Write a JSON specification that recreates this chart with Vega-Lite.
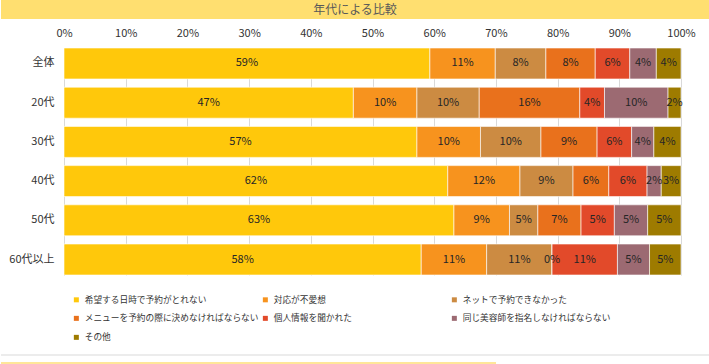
{
  "$schema": "https://vega.github.io/schema/vega-lite/v6.json",
  "padding": 0,
  "background": "white",
  "spacing": 8,
  "config": {"font": "Noto Sans CJK JP", "view": {"stroke": null}},
  "vconcat": [
    {
      "width": 617,
      "height": 19,
      "data": {"values": [{"t": "年代による比較"}]},
      "layer": [
        {
          "mark": {"type": "rect", "color": "#FFDF70", "clip": false},
          "encoding": {
            "x": {"datum": -0.1021, "type": "quantitative", "scale": {"domain": [0, 1], "nice": false}, "axis": null},
            "x2": {"datum": 1.0454}
          }
        },
        {
          "mark": {"type": "text", "fontSize": 12, "color": "#595959"},
          "encoding": {
            "x": {"datum": 0.4717, "type": "quantitative"},
            "text": {"field": "t"}
          }
        }
      ]
    },
    {
      "width": 617,
      "height": 227,
      "data": {"values": [
        {"age": "全体", "i": 1, "cat": "希望する日時で予約がとれない", "v": 0.593},
        {"age": "全体", "i": 2, "cat": "対応が不愛想", "v": 0.106},
        {"age": "全体", "i": 3, "cat": "ネットで予約できなかった", "v": 0.082},
        {"age": "全体", "i": 4, "cat": "メニューを予約の際に決めなければならない", "v": 0.080},
        {"age": "全体", "i": 5, "cat": "個人情報を聞かれた", "v": 0.056},
        {"age": "全体", "i": 6, "cat": "同じ美容師を指名しなければならない", "v": 0.043},
        {"age": "全体", "i": 7, "cat": "その他", "v": 0.040},
        {"age": "20代", "i": 1, "cat": "希望する日時で予約がとれない", "v": 0.469},
        {"age": "20代", "i": 2, "cat": "対応が不愛想", "v": 0.103},
        {"age": "20代", "i": 3, "cat": "ネットで予約できなかった", "v": 0.101},
        {"age": "20代", "i": 4, "cat": "メニューを予約の際に決めなければならない", "v": 0.163},
        {"age": "20代", "i": 5, "cat": "個人情報を聞かれた", "v": 0.040},
        {"age": "20代", "i": 6, "cat": "同じ美容師を指名しなければならない", "v": 0.103},
        {"age": "20代", "i": 7, "cat": "その他", "v": 0.021},
        {"age": "30代", "i": 1, "cat": "希望する日時で予約がとれない", "v": 0.572},
        {"age": "30代", "i": 2, "cat": "対応が不愛想", "v": 0.103},
        {"age": "30代", "i": 3, "cat": "ネットで予約できなかった", "v": 0.098},
        {"age": "30代", "i": 4, "cat": "メニューを予約の際に決めなければならない", "v": 0.091},
        {"age": "30代", "i": 5, "cat": "個人情報を聞かれた", "v": 0.056},
        {"age": "30代", "i": 6, "cat": "同じ美容師を指名しなければならない", "v": 0.036},
        {"age": "30代", "i": 7, "cat": "その他", "v": 0.044},
        {"age": "40代", "i": 1, "cat": "希望する日時で予約がとれない", "v": 0.622},
        {"age": "40代", "i": 2, "cat": "対応が不愛想", "v": 0.117},
        {"age": "40代", "i": 3, "cat": "ネットで予約できなかった", "v": 0.086},
        {"age": "40代", "i": 4, "cat": "メニューを予約の際に決めなければならない", "v": 0.058},
        {"age": "40代", "i": 5, "cat": "個人情報を聞かれた", "v": 0.062},
        {"age": "40代", "i": 6, "cat": "同じ美容師を指名しなければならない", "v": 0.023},
        {"age": "40代", "i": 7, "cat": "その他", "v": 0.032},
        {"age": "50代", "i": 1, "cat": "希望する日時で予約がとれない", "v": 0.632},
        {"age": "50代", "i": 2, "cat": "対応が不愛想", "v": 0.090},
        {"age": "50代", "i": 3, "cat": "ネットで予約できなかった", "v": 0.046},
        {"age": "50代", "i": 4, "cat": "メニューを予約の際に決めなければならない", "v": 0.070},
        {"age": "50代", "i": 5, "cat": "個人情報を聞かれた", "v": 0.054},
        {"age": "50代", "i": 6, "cat": "同じ美容師を指名しなければならない", "v": 0.054},
        {"age": "50代", "i": 7, "cat": "その他", "v": 0.054},
        {"age": "60代以上", "i": 1, "cat": "希望する日時で予約がとれない", "v": 0.579},
        {"age": "60代以上", "i": 2, "cat": "対応が不愛想", "v": 0.106},
        {"age": "60代以上", "i": 3, "cat": "ネットで予約できなかった", "v": 0.106},
        {"age": "60代以上", "i": 4, "cat": "メニューを予約の際に決めなければならない", "v": 0.0},
        {"age": "60代以上", "i": 5, "cat": "個人情報を聞かれた", "v": 0.106},
        {"age": "60代以上", "i": 6, "cat": "同じ美容師を指名しなければならない", "v": 0.052},
        {"age": "60代以上", "i": 7, "cat": "その他", "v": 0.051}
      ]},
      "transform": [
        {"stack": "v", "groupby": ["age"], "sort": [{"field": "i", "order": "ascending"}], "as": ["v0", "v1"]},
        {"calculate": "(datum.v0 + datum.v1) / 2", "as": "mid"}
      ],
      "encoding": {
        "y": {
          "field": "age",
          "type": "nominal",
          "sort": ["全体", "20代", "30代", "40代", "50代", "60代以上"],
          "scale": {"paddingInner": 0.21, "paddingOuter": 0},
          "axis": {
            "title": null,
            "labelPadding": 10,
            "ticks": false,
            "domainColor": "#D9D9D9",
            "labelFontSize": 11,
            "labelColor": "#333333"
          }
        }
      },
      "layer": [
        {
          "mark": {"type": "bar", "stroke": "white", "strokeWidth": 0.6},
          "encoding": {
            "x": {
              "field": "v0",
              "type": "quantitative",
              "scale": {"domain": [0, 1], "nice": false},
              "axis": {
                "orient": "top",
                "format": ".0%",
                "values": [0, 0.1, 0.2, 0.3, 0.4, 0.5, 0.6, 0.7, 0.8, 0.9, 1],
                "title": null,
                "ticks": false,
                "domain": false,
                "labelPadding": 10,
                "labelFlush": false,
                "grid": true,
                "gridColor": "#D9D9D9",
                "labelFontSize": 11,
                "labelColor": "#333333"
              }
            },
            "x2": {"field": "v1"},
            "color": {
              "field": "cat",
              "type": "nominal",
              "sort": ["希望する日時で予約がとれない", "対応が不愛想", "ネットで予約できなかった", "メニューを予約の際に決めなければならない", "個人情報を聞かれた", "同じ美容師を指名しなければならない", "その他"],
              "scale": {
                "domain": ["希望する日時で予約がとれない", "対応が不愛想", "ネットで予約できなかった", "メニューを予約の際に決めなければならない", "個人情報を聞かれた", "同じ美容師を指名しなければならない", "その他"],
                "range": ["#FFC80B", "#F7931E", "#CC8B42", "#E9711C", "#E24A2A", "#9C6A72", "#9E7B00"]
              },
              "legend": {
                "title": null,
                "orient": "none",
                "legendX": 8,
                "legendY": 295,
                "columns": 3,
                "direction": "horizontal",
                "gridAlign": "all",
                "padding": 0,
                "symbolType": "square",
                "symbolSize": 25,
                "symbolStrokeWidth": 0,
                "labelFontSize": 8.7,
                "labelColor": "#333333",
                "labelLimit": 400,
                "labelOffset": 4,
                "columnPadding": 2,
                "rowPadding": 9
              }
            }
          }
        },
        {
          "mark": {"type": "text", "fontSize": 11, "color": "#262626"},
          "encoding": {
            "x": {"field": "mid", "type": "quantitative"},
            "text": {"field": "v", "type": "quantitative", "format": ".0%"}
          }
        }
      ]
    },
    {
      "width": 617,
      "height": 79,
      "data": {"values": [{"y": 0}]},
      "encoding": {
        "y": {"datum": 8, "type": "quantitative", "scale": {"domain": [0, 79]}, "axis": null}
      },
      "layer": [
        {
          "mark": {"type": "rule", "color": "#D9D9D9", "strokeWidth": 1, "clip": false},
          "encoding": {
            "x": {"datum": -0.1021, "type": "quantitative", "scale": {"domain": [0, 1], "nice": false}, "axis": null},
            "x2": {"datum": 1.0454}
          }
        },
        {
          "mark": {"type": "rule", "color": "#FFE699", "strokeWidth": 2, "clip": false},
          "encoding": {
            "y": {"datum": 0, "type": "quantitative"},
            "x": {"datum": -0.1021, "type": "quantitative"},
            "x2": {"datum": 0.7002}
          }
        }
      ]
    }
  ]
}
